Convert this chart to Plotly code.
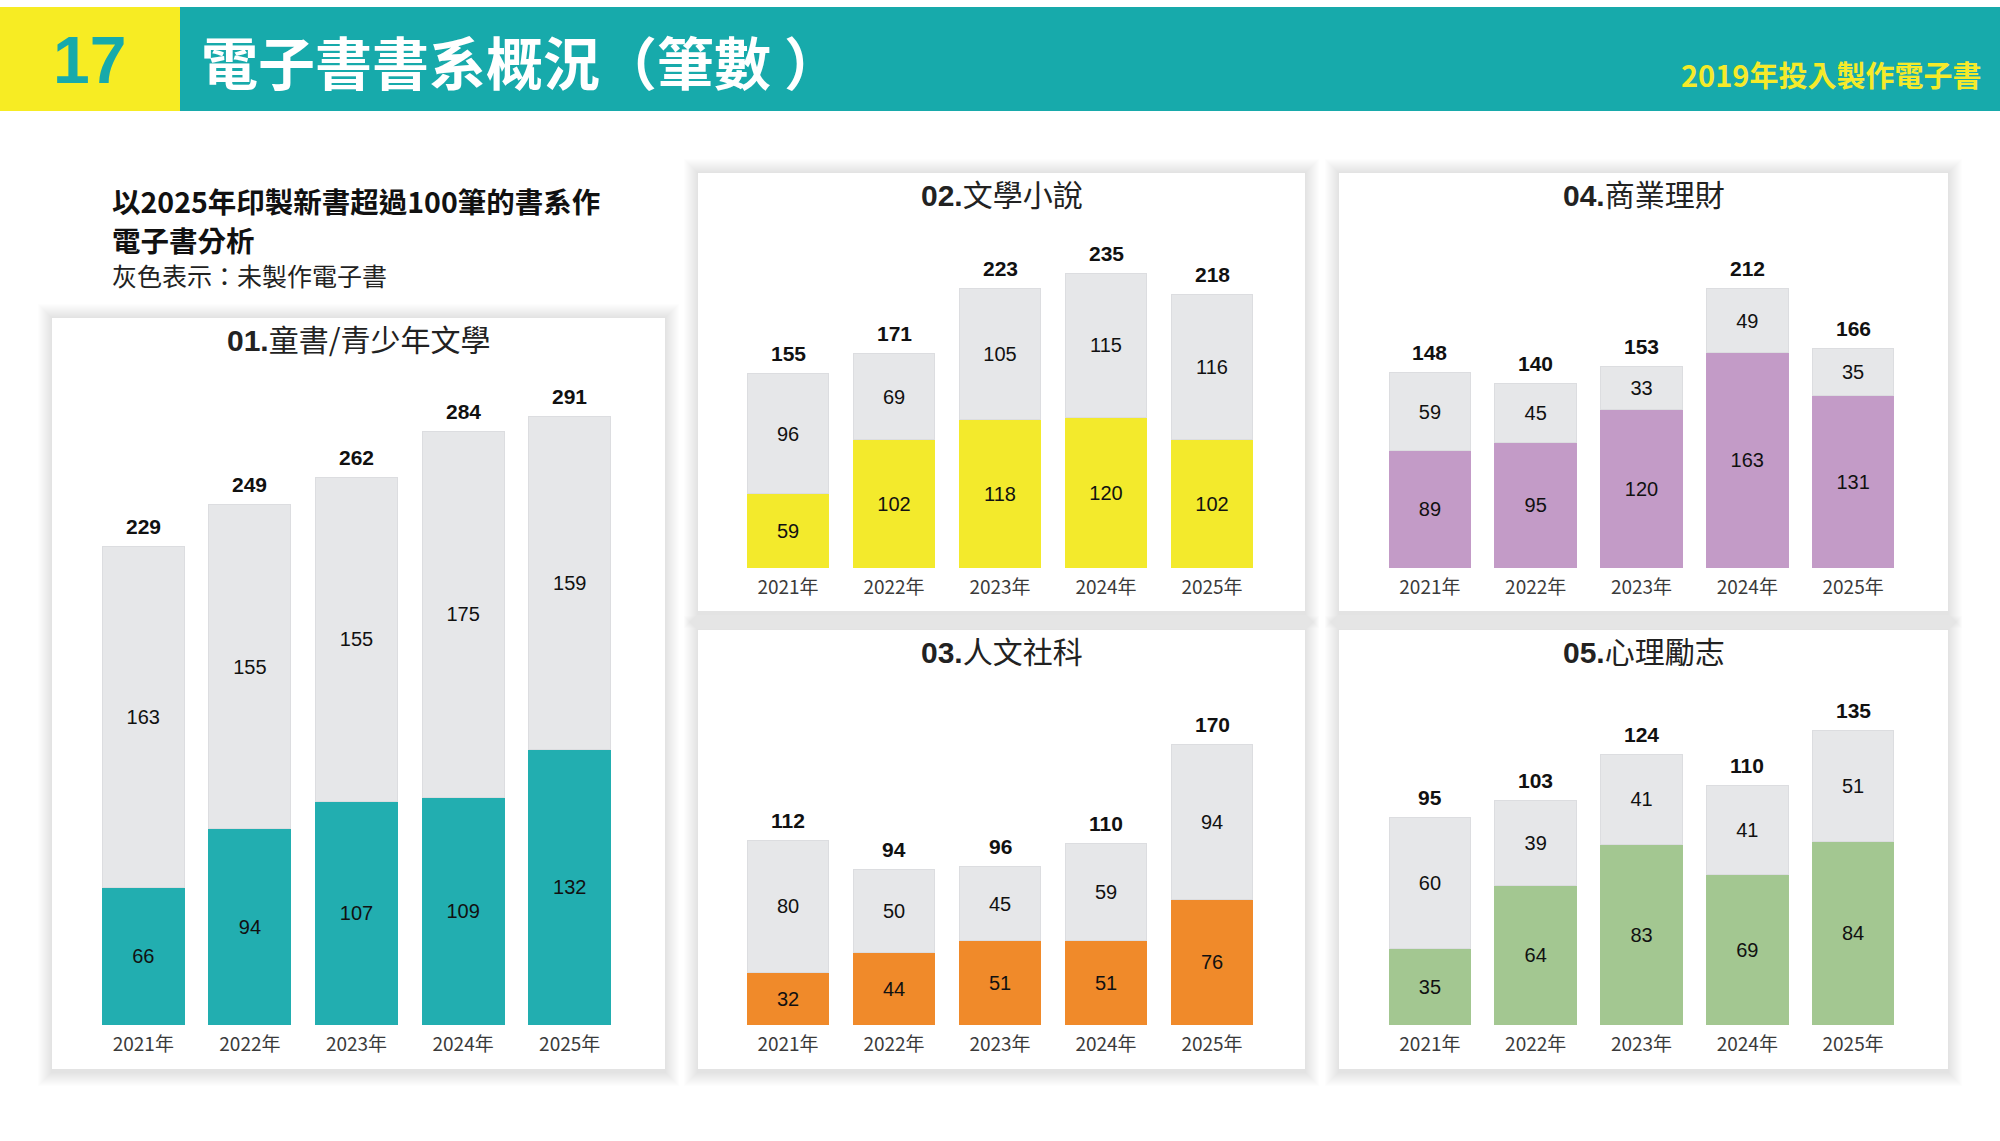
import plotly.graph_objects as go

W, H = 2000, 1141

YEARS = ['2021年', '2022年', '2023年', '2024年', '2025年']

# 01 童書/青少年文學
KIDS_NO_EBOOK = [163, 155, 155, 175, 159]
KIDS_EBOOK = [66, 94, 107, 109, 132]
# 02 文學小說
LIT_NO_EBOOK = [96, 69, 105, 115, 116]
LIT_EBOOK = [59, 102, 118, 120, 102]
# 03 人文社科
HUM_NO_EBOOK = [80, 50, 45, 59, 94]
HUM_EBOOK = [32, 44, 51, 51, 76]
# 04 商業理財
BIZ_NO_EBOOK = [59, 45, 33, 49, 35]
BIZ_EBOOK = [89, 95, 120, 163, 131]
# 05 心理勵志
PSY_NO_EBOOK = [60, 39, 41, 41, 51]
PSY_EBOOK = [35, 64, 83, 69, 84]

GREY = '#e6e7e9'
FONT = 'Liberation Sans, Noto Sans CJK TC, sans-serif'
CJK = 'Noto Sans CJK TC, Liberation Sans, sans-serif'


def px(x):
    return x / W


def py(y):
    return 1 - y / H


def note(x, y, text, size, color, xanchor='left', family=CJK):
    return dict(xref='paper', yref='paper', x=px(x), y=py(y),
                xanchor=xanchor, yanchor='middle', text=text, showarrow=False,
                font=dict(family=family, size=size, color=color))


# (num, name, colour, grey, coloured, panel box px, x domain px, baseline px, px per unit)
PANELS = [
    ('01.', '童書/青少年文學', '#22aeb0', KIDS_NO_EBOOK, KIDS_EBOOK,
     (52, 318, 665, 1069), (90, 623), 1025, 2.09),
    ('02.', '文學小說', '#f3ea2c', LIT_NO_EBOOK, LIT_EBOOK,
     (698, 173, 1305, 611), (735, 1265), 568, 1.255),
    ('04.', '商業理財', '#c39bc7', BIZ_NO_EBOOK, BIZ_EBOOK,
     (1339, 173, 1948, 611), (1377, 1906), 568, 1.32),
    ('03.', '人文社科', '#f08a2a', HUM_NO_EBOOK, HUM_EBOOK,
     (698, 630, 1305, 1069), (735, 1265), 1025, 1.65),
    ('05.', '心理勵志', '#a3c791', PSY_NO_EBOOK, PSY_EBOOK,
     (1339, 630, 1948, 1069), (1377, 1906), 1025, 2.18),
]

fig = go.Figure()
shapes = []
annotations = []
layout_axes = {}

# header band
shapes.append(dict(type='rect', xref='paper', yref='paper', layer='below',
                   x0=px(0), x1=px(180), y0=py(111), y1=py(7),
                   fillcolor='#f7ec23', line_width=0))
shapes.append(dict(type='rect', xref='paper', yref='paper', layer='below',
                   x0=px(180), x1=px(2000), y0=py(111), y1=py(7),
                   fillcolor='#17aaab', line_width=0))
annotations.append(note(89, 60, '<b>17</b>', 66, '#17aaab', 'center', FONT))
annotations.append(note(199, 60, '<b>電子書書系概況（筆數 ）</b>', 57, 'white'))
annotations.append(note(1983, 74, '<b>2019年投入製作電子書</b>', 29, '#f5ea2a', 'right'))

# notes on the left
annotations.append(note(110, 200, '<b>以2025年印製新書超過100筆的書系作</b>', 28.5, '#111'))
annotations.append(note(110, 239, '<b>電子書分析</b>', 28.5, '#111'))
annotations.append(note(110, 275, '灰色表示：未製作電子書', 25, '#222'))

for i, (num, name, colour, grey, coloured, box, xdom, base, k) in enumerate(PANELS):
    n = '' if i == 0 else str(i + 1)
    xa, ya = 'x' + n, 'y' + n
    bx0, by0, bx1, by1 = box

    # soft shadow then white card
    for s in range(14, 0, -1):
        shapes.append(dict(type='rect', xref='paper', yref='paper', layer='below',
                           x0=px(bx0 - s), x1=px(bx1 + s),
                           y0=py(by1 + s + 3), y1=py(by0 - s),
                           fillcolor='rgba(0,0,0,0.006)', line_width=0))
    shapes.append(dict(type='rect', xref='paper', yref='paper', layer='below',
                       x0=px(bx0), x1=px(bx1), y0=py(by1), y1=py(by0),
                       fillcolor='white', line_width=0))

    top_px = by0 + 60
    ymax = (base - top_px) / k
    totals = [g + c for g, c in zip(grey, coloured)]

    fig.add_trace(go.Bar(
        x=YEARS, y=coloured, xaxis=xa, yaxis=ya,
        marker=dict(color=colour, line=dict(color=colour, width=1)),
        text=coloured, textposition='inside', insidetextanchor='middle',
        textangle=0, constraintext='none',
        textfont=dict(family=FONT, size=20, color='#111'),
        showlegend=False, hoverinfo='skip'))
    fig.add_trace(go.Bar(
        x=YEARS, y=grey, xaxis=xa, yaxis=ya,
        marker=dict(color=GREY, line=dict(color='#dcdde0', width=1)),
        text=grey, textposition='inside', insidetextanchor='middle',
        textangle=0, constraintext='none',
        textfont=dict(family=FONT, size=20, color='#111'),
        showlegend=False, hoverinfo='skip'))

    for yr, t in zip(YEARS, totals):
        annotations.append(dict(xref=xa, yref=ya, x=yr, y=t, yshift=20,
                                xanchor='center', yanchor='middle',
                                text=f'<b>{t}</b>', showarrow=False,
                                font=dict(family=FONT, size=21, color='#111')))

    # panel title
    tx = (bx0 + bx1) / 2
    ty = by0 + 20
    annotations.append(note(tx, ty,
                            f'<b><span style="font-family:Liberation Sans">{num}</span></b>{name}',
                            30, '#222', 'center'))

    layout_axes['xaxis' + n] = dict(
        domain=[px(xdom[0]), px(xdom[1])], anchor=ya,
        showgrid=False, zeroline=False, showline=False, ticks='',
        ticklabelstandoff=6,
        tickfont=dict(family=CJK, size=19, color='#3a3a3a'),
        fixedrange=True)
    layout_axes['yaxis' + n] = dict(
        domain=[py(base), py(top_px)], anchor=xa, range=[0, ymax],
        showgrid=False, zeroline=False, showline=False,
        showticklabels=False, fixedrange=True)

fig.update_layout(
    width=W, height=H,
    margin=dict(l=0, r=0, t=0, b=0),
    paper_bgcolor='white', plot_bgcolor='rgba(0,0,0,0)',
    barmode='stack', bargap=0.23,
    shapes=shapes, annotations=annotations,
    **layout_axes,
)

fig.write_html('out.html', config={'displayModeBar': False},
               post_script="document.body.style.margin='0';")
